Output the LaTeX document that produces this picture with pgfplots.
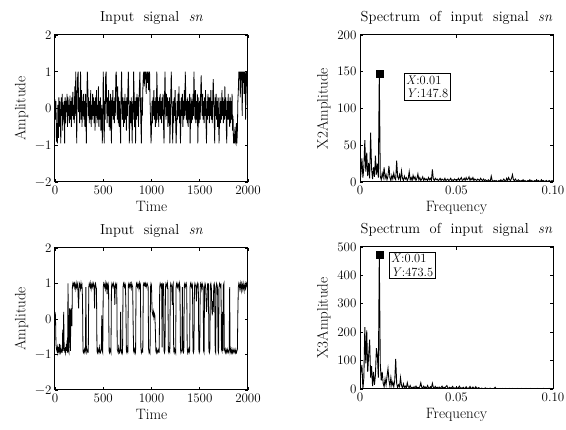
\documentclass[border=0pt]{standalone}
\usepackage{fontspec}
\usepackage{pgfplots}
\usepackage{pgfplotstable}
\pgfplotsset{compat=1.18}

% time signals, one sample every 5 time units
\pgfplotstableread[row sep=\\,header=false]{
0.25\\-0.3\\0.2\\-0.9\\-0.4\\-0.95\\0.1\\-0.8\\0.3\\-0.5\\0.2\\-0.3\\-0.95\\0.3\\-0.2\\0.4\\-0.6\\0.1\\-0.3\\0.2\\
-0.95\\0.3\\-0.4\\0.2\\-0.1\\0.4\\-0.5\\0.3\\-0.2\\0.1\\-0.4\\0.35\\-0.3\\0.2\\-0.5\\0.3\\-0.2\\0.45\\-0.3\\0.1\\
-0.4\\0.6\\-0.2\\1.0\\0.3\\-0.95\\0.2\\0.9\\1.0\\-0.1\\0.3\\-0.4\\0.2\\1.0\\-0.3\\0.5\\-0.5\\0.2\\-0.2\\0.4\\
-0.3\\0.2\\-0.5\\0.4\\-0.2\\-0.95\\0.3\\1.0\\0.6\\-0.2\\0.3\\-0.4\\0.2\\-0.3\\0.5\\-0.5\\0.1\\-0.3\\0.4\\-0.2\\
0.3\\-0.4\\0.2\\-0.6\\0.3\\-0.2\\0.5\\-0.4\\0.1\\-0.3\\0.6\\-0.5\\0.2\\-0.3\\0.3\\-0.6\\-0.2\\0.1\\-0.95\\-0.4\\
1.0\\0.3\\-0.95\\0.2\\-0.3\\0.9\\1.0\\0.2\\-0.4\\0.3\\-0.2\\0.5\\-0.5\\0.2\\-0.6\\0.4\\-0.3\\-0.95\\0.3\\-0.2\\
0.5\\-0.3\\0.2\\-0.4\\0.3\\-0.2\\0.9\\1.0\\0.4\\-0.3\\0.6\\-0.4\\0.3\\-0.5\\0.2\\-0.3\\-0.95\\0.4\\1.0\\0.2\\
-0.3\\0.3\\-0.5\\0.2\\-0.4\\0.4\\-0.3\\0.2\\-0.6\\0.3\\-0.2\\0.5\\1.0\\0.3\\-0.95\\-0.3\\0.2\\-0.4\\0.3\\-0.2\\
-0.95\\0.2\\-0.3\\1.0\\0.4\\-0.5\\0.2\\-0.95\\0.3\\-0.3\\0.4\\-0.2\\0.3\\-0.5\\0.2\\0.6\\1.0\\0.2\\-0.4\\-0.95\\
0.3\\-0.2\\0.5\\0.9\\1.0\\0.6\\1.0\\0.8\\1.0\\0.4\\0.9\\1.0\\0.7\\1.0\\0.5\\0.9\\1.0\\0.2\\-0.3\\-0.95\\
-0.6\\0.2\\-0.4\\0.3\\-0.2\\0.5\\-0.3\\0.2\\-0.5\\0.3\\-0.4\\1.0\\0.4\\-0.3\\0.2\\-0.5\\0.3\\-0.2\\0.4\\-0.3\\
0.2\\-0.4\\0.3\\-0.2\\0.4\\-0.5\\-0.95\\0.3\\1.0\\0.2\\-0.3\\0.4\\-0.2\\0.3\\-0.5\\0.2\\-0.4\\0.3\\-0.95\\-0.5\\
0.4\\1.0\\0.3\\-0.3\\-0.95\\0.2\\-0.4\\0.3\\-0.2\\0.5\\-0.3\\-0.95\\-0.5\\0.2\\-0.3\\0.4\\-0.2\\0.6\\-0.4\\0.2\\
-0.95\\-0.3\\0.3\\-0.2\\0.4\\-0.5\\0.2\\-0.3\\0.5\\-0.2\\1.0\\0.4\\-0.3\\0.2\\-0.4\\0.3\\-0.5\\0.2\\-0.3\\0.4\\
-0.95\\-0.2\\0.3\\-0.4\\0.2\\-0.3\\0.4\\-0.2\\1.0\\0.3\\-0.3\\0.5\\-0.4\\0.2\\-0.3\\0.4\\-0.95\\-0.2\\0.3\\-0.4\\
0.2\\-0.3\\0.5\\0.9\\0.3\\-0.2\\0.4\\-0.3\\0.2\\-0.4\\0.3\\-0.2\\0.5\\-0.4\\-0.95\\0.2\\-0.3\\0.4\\-0.2\\0.3\\
-0.4\\0.3\\-0.2\\0.5\\-0.3\\0.2\\-0.4\\0.4\\0.8\\0.2\\-0.3\\-0.95\\0.3\\-0.2\\0.4\\-0.3\\0.2\\-0.5\\0.3\\-0.2\\
-0.95\\-0.3\\0.3\\-0.4\\0.2\\-0.3\\0.5\\-0.2\\0.3\\-0.4\\0.2\\-0.3\\0.6\\-0.2\\0.3\\-0.5\\-0.95\\0.2\\-0.3\\0.4\\
-0.3\\0.2\\-0.5\\0.3\\-0.4\\0.2\\-0.3\\0.4\\-0.6\\-0.2\\-0.95\\-0.7\\-0.95\\-0.5\\-0.9\\-0.95\\-0.4\\-0.95\\-0.6\\0.2\\
0.5\\1.0\\0.8\\1.0\\0.3\\1.0\\0.9\\1.0\\-0.2\\1.0\\0.7\\1.0\\0.4\\1.0\\0.9\\-0.3\\1.0\\0.6\\1.0\\-0.2\\0.3\\
}\sigA

\pgfplotstableread[row sep=\\,header=false]{
0.2\\0.1\\-0.7\\-0.85\\-0.9\\-0.8\\-0.95\\-0.85\\-0.9\\-0.7\\-0.9\\-0.8\\-0.95\\-0.9\\-0.85\\-0.95\\-0.3\\-0.9\\0.2\\-0.8\\
-0.9\\-0.85\\-0.95\\-0.8\\-0.9\\-0.6\\-0.95\\1.0\\-0.9\\-0.95\\0.3\\0.2\\-0.9\\0.3\\0.1\\-0.2\\0.9\\1.0\\0.95\\1.0\\
0.9\\1.0\\0.95\\0.85\\1.0\\0.9\\0.95\\1.0\\0.6\\0.3\\0.9\\1.0\\0.95\\0.85\\1.0\\0.9\\0.95\\0.6\\-0.9\\-0.95\\
-0.9\\-0.85\\-0.95\\-0.9\\0.9\\-0.8\\-0.95\\-0.9\\-0.85\\-0.95\\0.9\\1.0\\0.95\\0.9\\1.0\\0.85\\0.95\\1.0\\0.9\\0.95\\
1.0\\0.9\\0.3\\0.95\\1.0\\0.9\\0.85\\-0.9\\-0.95\\-0.85\\-0.9\\-0.95\\-0.8\\-0.9\\-0.95\\-0.9\\-0.85\\0.1\\-0.9\\-0.95\\
0.9\\1.0\\0.95\\0.9\\1.0\\0.85\\0.95\\1.0\\0.7\\0.95\\1.0\\0.9\\-0.9\\-0.95\\-0.85\\-0.9\\-0.95\\0.9\\1.0\\0.95\\
0.9\\1.0\\0.95\\0.9\\0.4\\0.95\\1.0\\0.9\\0.95\\-0.85\\-0.9\\-0.95\\-0.8\\-0.9\\-0.95\\-0.9\\0.2\\-0.85\\-0.95\\-0.9\\
-0.95\\0.9\\1.0\\0.95\\0.9\\1.0\\0.95\\0.3\\-0.9\\-0.95\\-0.85\\-0.9\\0.95\\1.0\\0.9\\0.95\\1.0\\0.9\\0.85\\1.0\\
0.95\\0.9\\-0.2\\-0.9\\-0.95\\-0.85\\-0.9\\-0.95\\0.9\\1.0\\0.95\\0.9\\1.0\\0.95\\0.85\\1.0\\0.9\\0.95\\-0.8\\-0.95\\
-0.9\\-0.85\\-0.95\\0.95\\1.0\\0.95\\1.0\\0.95\\1.0\\0.9\\0.95\\1.0\\0.95\\0.9\\-0.85\\-0.95\\-0.9\\-0.95\\0.9\\1.0\\
0.95\\0.3\\0.15\\0.1\\0.2\\0.05\\0.15\\0.1\\-0.3\\-0.9\\-0.95\\-0.85\\-0.9\\-0.95\\-0.9\\-0.85\\-0.95\\0.9\\1.0\\0.95\\
0.9\\1.0\\-0.8\\0.95\\0.9\\1.0\\-0.9\\-0.95\\-0.85\\0.9\\1.0\\0.95\\0.9\\1.0\\0.85\\-0.9\\-0.95\\-0.85\\-0.9\\0.9\\
1.0\\0.95\\0.9\\0.4\\0.95\\1.0\\-0.9\\-0.95\\-0.85\\-0.9\\-0.95\\0.9\\1.0\\0.95\\0.9\\1.0\\0.95\\0.85\\1.0\\0.9\\
-0.85\\-0.95\\-0.9\\-0.85\\0.9\\-0.9\\-0.95\\-0.9\\0.95\\1.0\\0.9\\0.95\\1.0\\0.9\\-0.8\\-0.95\\-0.9\\-0.85\\-0.95\\-0.9\\
0.9\\1.0\\0.95\\0.9\\1.0\\0.95\\-0.9\\-0.95\\-0.85\\0.9\\1.0\\0.95\\0.9\\0.5\\0.95\\1.0\\0.9\\0.95\\-0.85\\-0.95\\
-0.9\\0.9\\1.0\\0.95\\0.85\\1.0\\0.95\\0.9\\-0.9\\-0.95\\0.9\\1.0\\0.95\\0.6\\0.2\\0.4\\0.95\\0.9\\1.0\\-0.9\\
-0.95\\-0.85\\0.95\\1.0\\0.9\\0.3\\0.1\\0.5\\0.2\\0.95\\1.0\\0.9\\-0.9\\-0.95\\0.9\\1.0\\0.95\\0.85\\-0.9\\-0.95\\
0.9\\1.0\\0.95\\0.9\\1.0\\-0.85\\-0.9\\0.2\\-0.9\\0.95\\1.0\\-0.85\\-0.9\\-0.95\\-0.85\\-0.9\\-0.95\\-0.85\\-0.9\\-0.95\\
-0.9\\-0.85\\0.9\\-0.95\\-0.9\\-0.85\\-0.95\\-0.9\\-0.95\\-0.85\\-0.9\\-0.95\\-0.9\\-0.85\\-0.95\\-0.9\\-0.95\\-0.9\\-0.85\\0.2\\
0.9\\1.0\\0.95\\0.85\\1.0\\0.9\\0.8\\1.0\\0.95\\0.85\\1.0\\0.9\\0.8\\0.95\\1.0\\0.85\\0.9\\1.0\\0.95\\0.9\\1.0\\
}\sigB

% spectra, one bin every 0.0005
\pgfplotstableread[row sep=\\,header=false]{
0\\12\\32\\6\\20\\57\\14\\40\\8\\26\\5\\67\\18\\4\\20\\7\\36\\10\\25\\6\\147.8\\
8\\3\\12\\6\\20\\5\\10\\3\\8\\22\\6\\2\\9\\4\\12\\5\\3\\29\\7\\4\\
10\\3\\15\\5\\2\\8\\4\\6\\2\\5\\14\\3\\6\\2\\9\\4\\7\\2\\5\\11\\
3\\6\\2\\4\\7\\2\\5\\3\\4\\2\\6\\3\\5\\2\\17\\4\\2\\5\\3\\4\\
2\\3\\5\\2\\4\\3\\2\\5\\2\\3\\4\\2\\3\\5\\2\\3\\2\\4\\3\\2\\
3\\5\\2\\4\\6\\2\\3\\5\\2\\6\\3\\4\\7\\2\\5\\3\\6\\2\\4\\3\\
2\\4\\3\\2\\5\\3\\2\\4\\2\\3\\2\\1\\3\\2\\1\\8\\2\\1\\2\\1\\
2\\1\\1\\2\\1\\3\\1\\2\\4\\2\\1\\5\\2\\6\\3\\2\\5\\10\\3\\2\\
4\\2\\1\\3\\2\\1\\2\\1\\3\\1\\2\\1\\1\\2\\1\\3\\1\\2\\1\\1\\
2\\1\\3\\1\\2\\1\\1\\3\\1\\2\\1\\1\\2\\1\\1\\2\\1\\1\\2\\1\\
}\specA

\pgfplotstableread[row sep=\\,header=false]{
80\\60\\85\\0\\40\\218\\90\\206\\60\\120\\174\\40\\80\\10\\60\\15\\50\\144\\120\\40\\473.5\\
90\\30\\60\\20\\8\\35\\15\\45\\72\\30\\10\\40\\12\\25\\8\\30\\106\\20\\5\\15\\
8\\40\\12\\4\\18\\6\\10\\3\\22\\8\\5\\12\\3\\6\\2\\8\\4\\10\\3\\6\\
3\\8\\22\\6\\3\\10\\4\\7\\2\\12\\5\\3\\8\\4\\20\\6\\3\\9\\4\\6\\
2\\7\\3\\5\\10\\2\\6\\3\\8\\12\\4\\2\\6\\3\\5\\9\\2\\4\\3\\6\\
2\\5\\10\\3\\4\\2\\6\\3\\2\\8\\3\\2\\4\\9\\2\\3\\7\\2\\3\\8\\
2\\3\\5\\2\\1\\3\\2\\1\\2\\4\\1\\2\\1\\2\\3\\1\\1\\2\\1\\6\\
1\\2\\1\\1\\2\\1\\1\\2\\1\\1\\2\\1\\1\\1\\2\\1\\1\\2\\1\\1\\
1\\1\\2\\1\\1\\1\\2\\1\\1\\1\\1\\2\\1\\1\\1\\1\\2\\1\\1\\1\\
1\\1\\1\\2\\1\\1\\1\\1\\1\\2\\1\\1\\1\\1\\1\\2\\1\\1\\1\\1\\
}\specB

\pgfplotsset{
  panel/.style={
    scale only axis, width=193pt,
    tick align=inside, major tick length=3pt,
    axis line style={line width=1pt},
    every tick/.style={black,line width=0.7pt},
    tick label style={font=\fontsize{13}{15}\selectfont},
    label style={font=\fontsize{15}{17}\selectfont},
    title style={font=\fontsize{14.5}{17}\selectfont,yshift=1pt},
    enlargelimits=false,
  },
  sigax/.style={panel,
    xmin=0,xmax=2000,ymin=-2,ymax=2,
    xtick={0,500,1000,1500,2000},xticklabels={0,500,1000,1500,2000},
    ytick={-2,-1,0,1,2},yticklabels={−2,−1,0,1,2},
    xlabel={Time},ylabel={Amplitude},
    title={Input\ \ signal\ \ \textit{sn}},
  },
  specax/.style={panel,
    xmin=0,xmax=0.1,ymin=0,
    xtick={0,0.05,0.1},xticklabels={0,0.05,0.10},
    xlabel={Frequency},
    title={Spectrum\ \ of\ \ input\ \ signal\ \ \textit{sn}},
  },
}
\tikzset{
  dbox/.style={draw,line width=0.7pt,fill=white,align=left,inner sep=2pt,
    anchor=north west,font=\fontsize{12.5}{13.5}\selectfont},
}

\begin{document}
\begin{tikzpicture}
\path[use as bounding box] (0pt,0pt) rectangle (566pt,430pt);

\begin{axis}[sigax,height=147pt,at={(55pt,248pt)},anchor=south west]
\addplot[black,line width=0.8pt] table[x expr=\coordindex*5,y index=0] {\sigA};
\end{axis}

\begin{axis}[specax,height=147pt,at={(360pt,248pt)},anchor=south west,
  ymax=200,ytick={0,50,100,150,200},yticklabels={0,50,100,150,200},
  ylabel={X2Amplitude}]
\addplot[black,line width=0.9pt] table[x expr=\coordindex*0.0005,y index=0] {\specA};
\addplot[only marks,mark=square*,mark size=3.5pt,black] coordinates {(0.01,147.8)};
\node[dbox] at (axis cs:0.0227,148) {\textit{X}:0.01\\\textit{Y}:147.8};
\end{axis}

\begin{axis}[sigax,height=142pt,at={(55pt,40pt)},anchor=south west]
\addplot[black,line width=0.8pt] table[x expr=\coordindex*5,y index=0] {\sigB};
\end{axis}

\begin{axis}[specax,height=142pt,at={(360pt,41pt)},anchor=south west,
  ymax=500,ytick={0,100,200,300,400,500},yticklabels={0,100,200,300,400,500},
  ylabel={X3Amplitude}]
\addplot[black,line width=0.9pt] table[x expr=\coordindex*0.0005,y index=0] {\specB};
\addplot[only marks,mark=square*,mark size=3.5pt,black] coordinates {(0.01,473.5)};
\node[dbox] at (axis cs:0.0149,482) {\textit{X}:0.01\\\textit{Y}:473.5};
\end{axis}
\end{tikzpicture}
\end{document}
